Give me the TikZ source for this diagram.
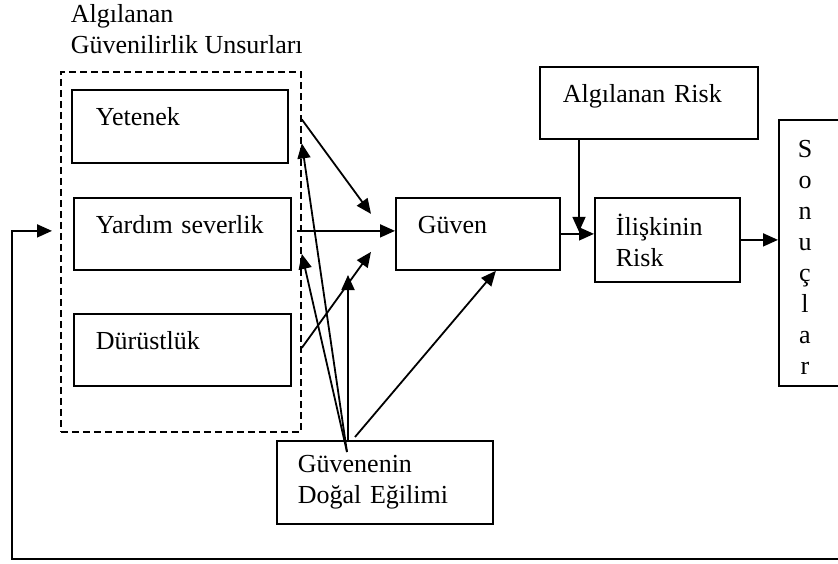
\documentclass[tikz,border=0pt]{standalone}
\usepackage{fontspec}
\setmainfont{Liberation Serif}
\usepackage{tikz}
\usetikzlibrary{arrows.meta,positioning,calc}

\begin{document}
\begin{tikzpicture}[x=1pt, y=-1pt, line width=1.8pt,
    every node/.style={font=\fontsize{26}{31}\selectfont},
    box/.style={draw, anchor=north west, align=left, inner ysep=0pt, text height=36pt},
    tallbox/.style={draw, anchor=north west, align=left},
    arr/.style={-{Triangle[length=15pt,width=13pt]}}]
    \useasboundingbox (0,0) rectangle (838,564);

    \node[anchor=north west, align=left, inner sep=0pt] (baslik) at (70,4) {Algılanan\\Güvenilirlik Unsurları};
    \node[draw, dash pattern=on 7pt off 4pt, anchor=north west, minimum width=240pt, minimum height=360pt] (unsur) at (60,71) {};

    \node[box, inner xsep=24pt, text width=168pt, text depth=37pt] (yetenek) at (71,89) {Yetenek};
    \node[box, inner xsep=22pt, text width=173pt, text depth=36pt] (yardim) at (73,197) {Yardım severlik};
    \node[box, inner xsep=22pt, text width=173pt, text depth=36pt] (durust) at (73,313) {Dürüstlük};
    \node[box, inner xsep=22pt, text width=120pt, text depth=36pt] (guven) at (395,197) {Güven};
    \node[box, inner xsep=23pt, text width=172pt, text depth=36pt] (arisk) at (539,66) {Algılanan Risk};
    \node[tallbox, inner xsep=21pt, text width=103pt, minimum height=84pt] (ilis) at (594,197) {İlişkinin\\Risk};
    \node[tallbox, inner xsep=21pt, text width=174pt, minimum height=83pt] (guvenen) at (276,440) {Güvenenin\\Doğal Eğilimi};
    \node[draw, anchor=north west, minimum width=80pt, minimum height=266pt] (sonuc) at (778,119) {};
    \node[align=center] (sonuctxt) at (805,257) {S\\o\\n\\u\\ç\\l\\a\\r};

    \coordinate (gsrc) at ($(guvenen.north west)+(71,12)$);
    \coordinate (geri) at (845,559);

    \draw[arr] ($(yetenek.east)+(13,-7)$) -- ($(guven.west)+(-24,-20)$);
    \draw[arr] ($(yardim.east)+(5,-3)$) -- ($(guven.west)+(0,-3)$);
    \draw[arr] ($(durust.east)+(10,-2)$) -- ($(guven.west)+(-24,18)$);
    \draw[arr] (gsrc) -- ($(yetenek.east)+(13,17)$);
    \draw[arr] (gsrc) -- ($(yardim.east)+(10,20)$);
    \draw[arr] ($(guvenen.north west)+(72,0)$) -- ++(0,-165);
    \draw[arr] ($(guvenen.north west)+(79,-3)$) -- ($(guven.south)+(18,0)$);
    \draw[arr] (guven.east) -- (guven.east -| ilis.west);
    \draw[arr] ($(arisk.south west)+(40,0)$) -- ++(0,92);
    \draw[arr] (ilis.east) -- (ilis.east -| sonuc.west);
    \draw[arr] (geri) -| ($(unsur.west)+(-48,-21)$) -- ($(unsur.west)+(-8,-21)$);
\end{tikzpicture}
\end{document}
